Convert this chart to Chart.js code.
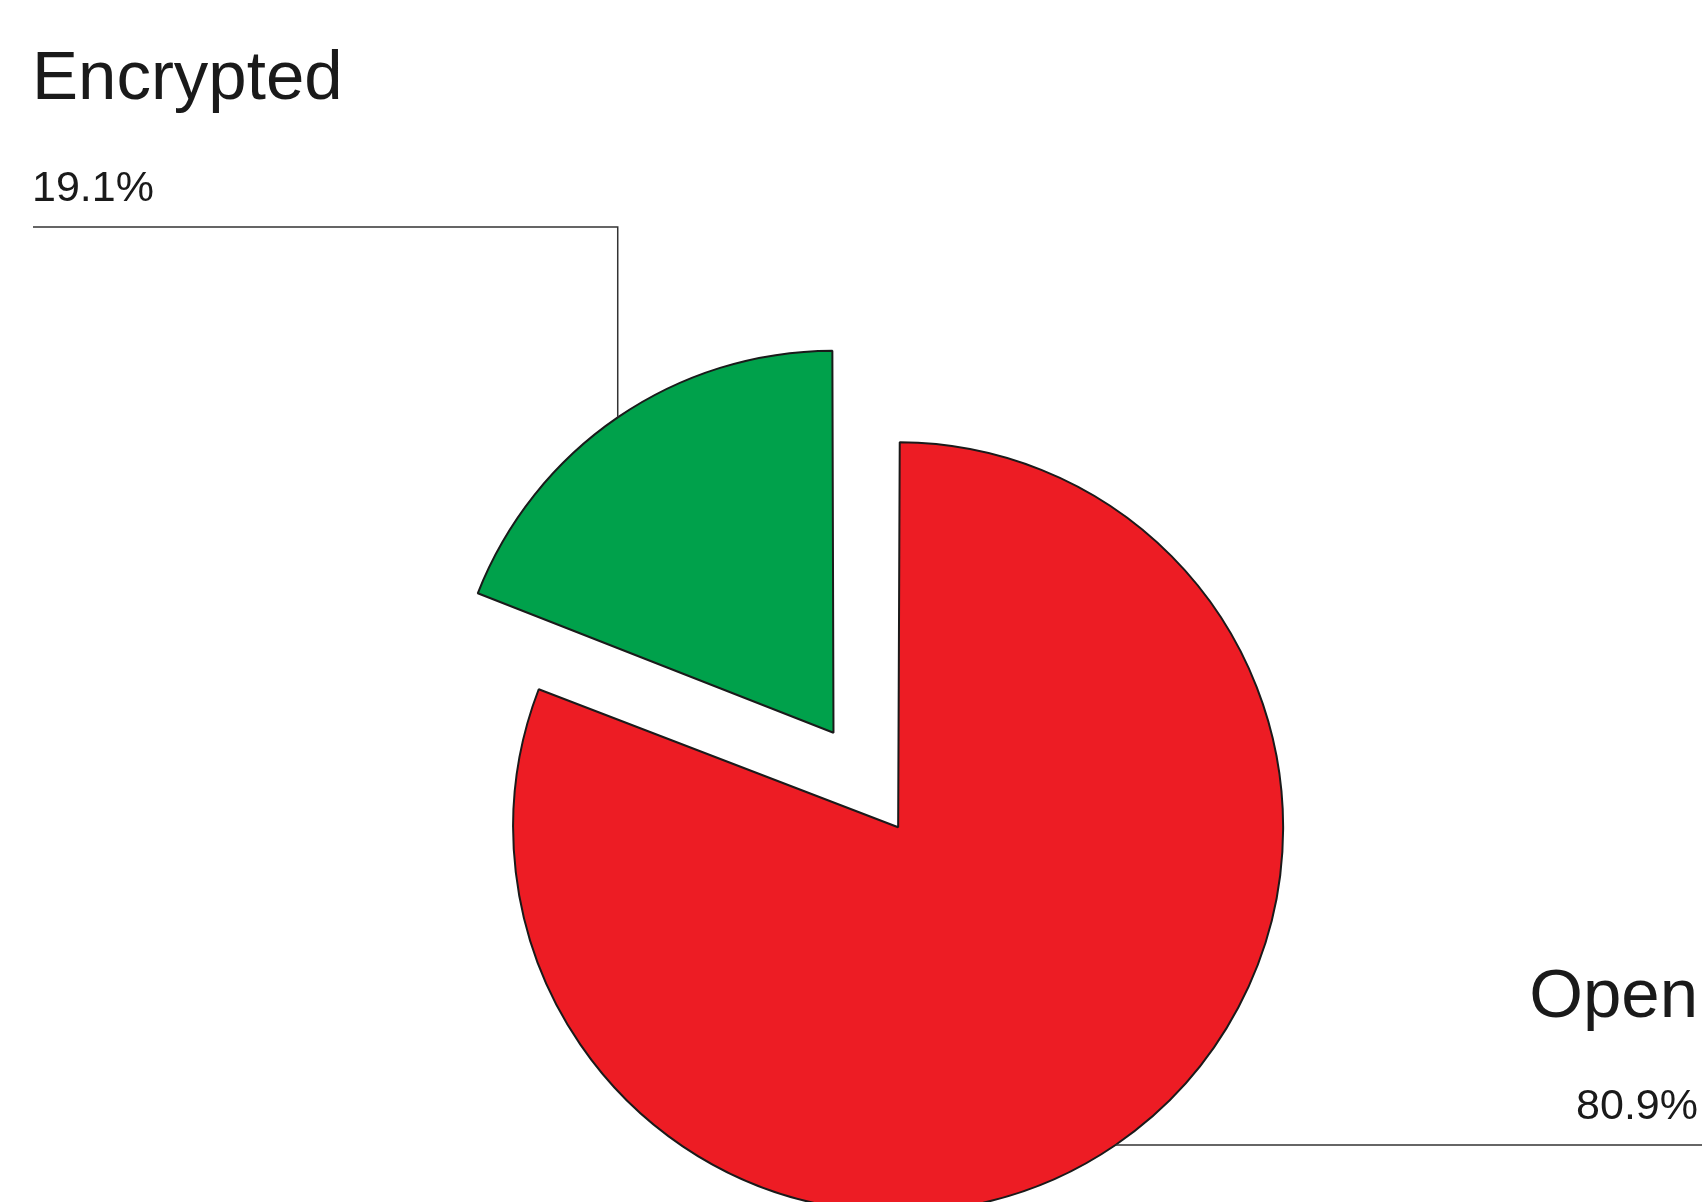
<!DOCTYPE html>
<html>
<head>
<meta charset="utf-8">
<script src="https://cdn.jsdelivr.net/npm/chart.js@4.4.0/dist/chart.umd.min.js"></script>
<style>
  html, body { margin: 0; padding: 0; background: #fff; }
  canvas { display: block; }
</style>
</head>
<body>
<canvas id="pieChart" width="1702" height="1202"></canvas>
<script>
// ===== DATA =====
const categories = ['Open', 'Encrypted'];
const shares = [80.9, 19.1];
const shareLabels = ['80.9%', '19.1%'];
const sliceColors = ['#ed1c24', '#00a14b'];

// leader line layout, same order as categories
const leaders = [
  { side: 'right', lineY: null },  // straight out to the right
  { side: 'left', lineY: 227 }     // up, then to the left edge
];

const leaderLabels = {
  id: 'leaderLabels',
  afterDatasetsDraw(chart) {
    const { ctx, width } = chart;
    const meta = chart.getDatasetMeta(0);
    ctx.save();
    meta.data.forEach((arc, i) => {
      const p = arc.getProps(['x', 'y', 'startAngle', 'endAngle', 'outerRadius', 'circumference'], true);
      const off = (arc.options.offset || 0) / 4;
      const mid = (p.startAngle + p.endAngle) / 2;
      const fix = 1 - Math.sin(Math.min(Math.PI, p.circumference));
      const r = p.outerRadius + off * fix;
      const px = p.x + Math.cos(mid) * (off + r);
      const py = p.y + Math.sin(mid) * (off + r);
      const cfg = leaders[i];
      const lineY = cfg.lineY == null ? py : cfg.lineY;
      const edgeX = cfg.side === 'left' ? 33 : width;

      ctx.strokeStyle = '#333';
      ctx.lineWidth = 1.5;
      ctx.beginPath();
      ctx.moveTo(px, py);
      ctx.lineTo(px, lineY);
      ctx.lineTo(edgeX, lineY);
      ctx.stroke();

      ctx.fillStyle = '#1a1a1a';
      ctx.textBaseline = 'alphabetic';
      ctx.textAlign = cfg.side === 'left' ? 'left' : 'right';
      const tx = cfg.side === 'left' ? 32 : 1698;
      ctx.font = '43px "Liberation Sans", Arial, sans-serif';
      ctx.fillText(shareLabels[i], tx, lineY - 26);
      ctx.font = '69px "Liberation Sans", Arial, sans-serif';
      ctx.fillText(categories[i], tx, lineY - 128);
    });
    ctx.restore();
  }
};

document.addEventListener('DOMContentLoaded', () => {
  const ctx = document.getElementById('pieChart');
  new Chart(ctx, {
    type: 'pie',
    data: {
      labels: categories,
      datasets: [{
        data: shares,
        backgroundColor: sliceColors,
        borderColor: '#1a1a1a',
        borderWidth: 2,
        radius: 375,
        offset: [40, 418]
      }]
    },
    options: {
      responsive: false,
      animation: false,
      events: [],
      layout: { padding: { left: 83, right: 0, top: 436, bottom: 0 } },
      plugins: { legend: { display: false }, tooltip: { enabled: false } }
    },
    plugins: [leaderLabels]
  });
});
</script>
</body>
</html>
